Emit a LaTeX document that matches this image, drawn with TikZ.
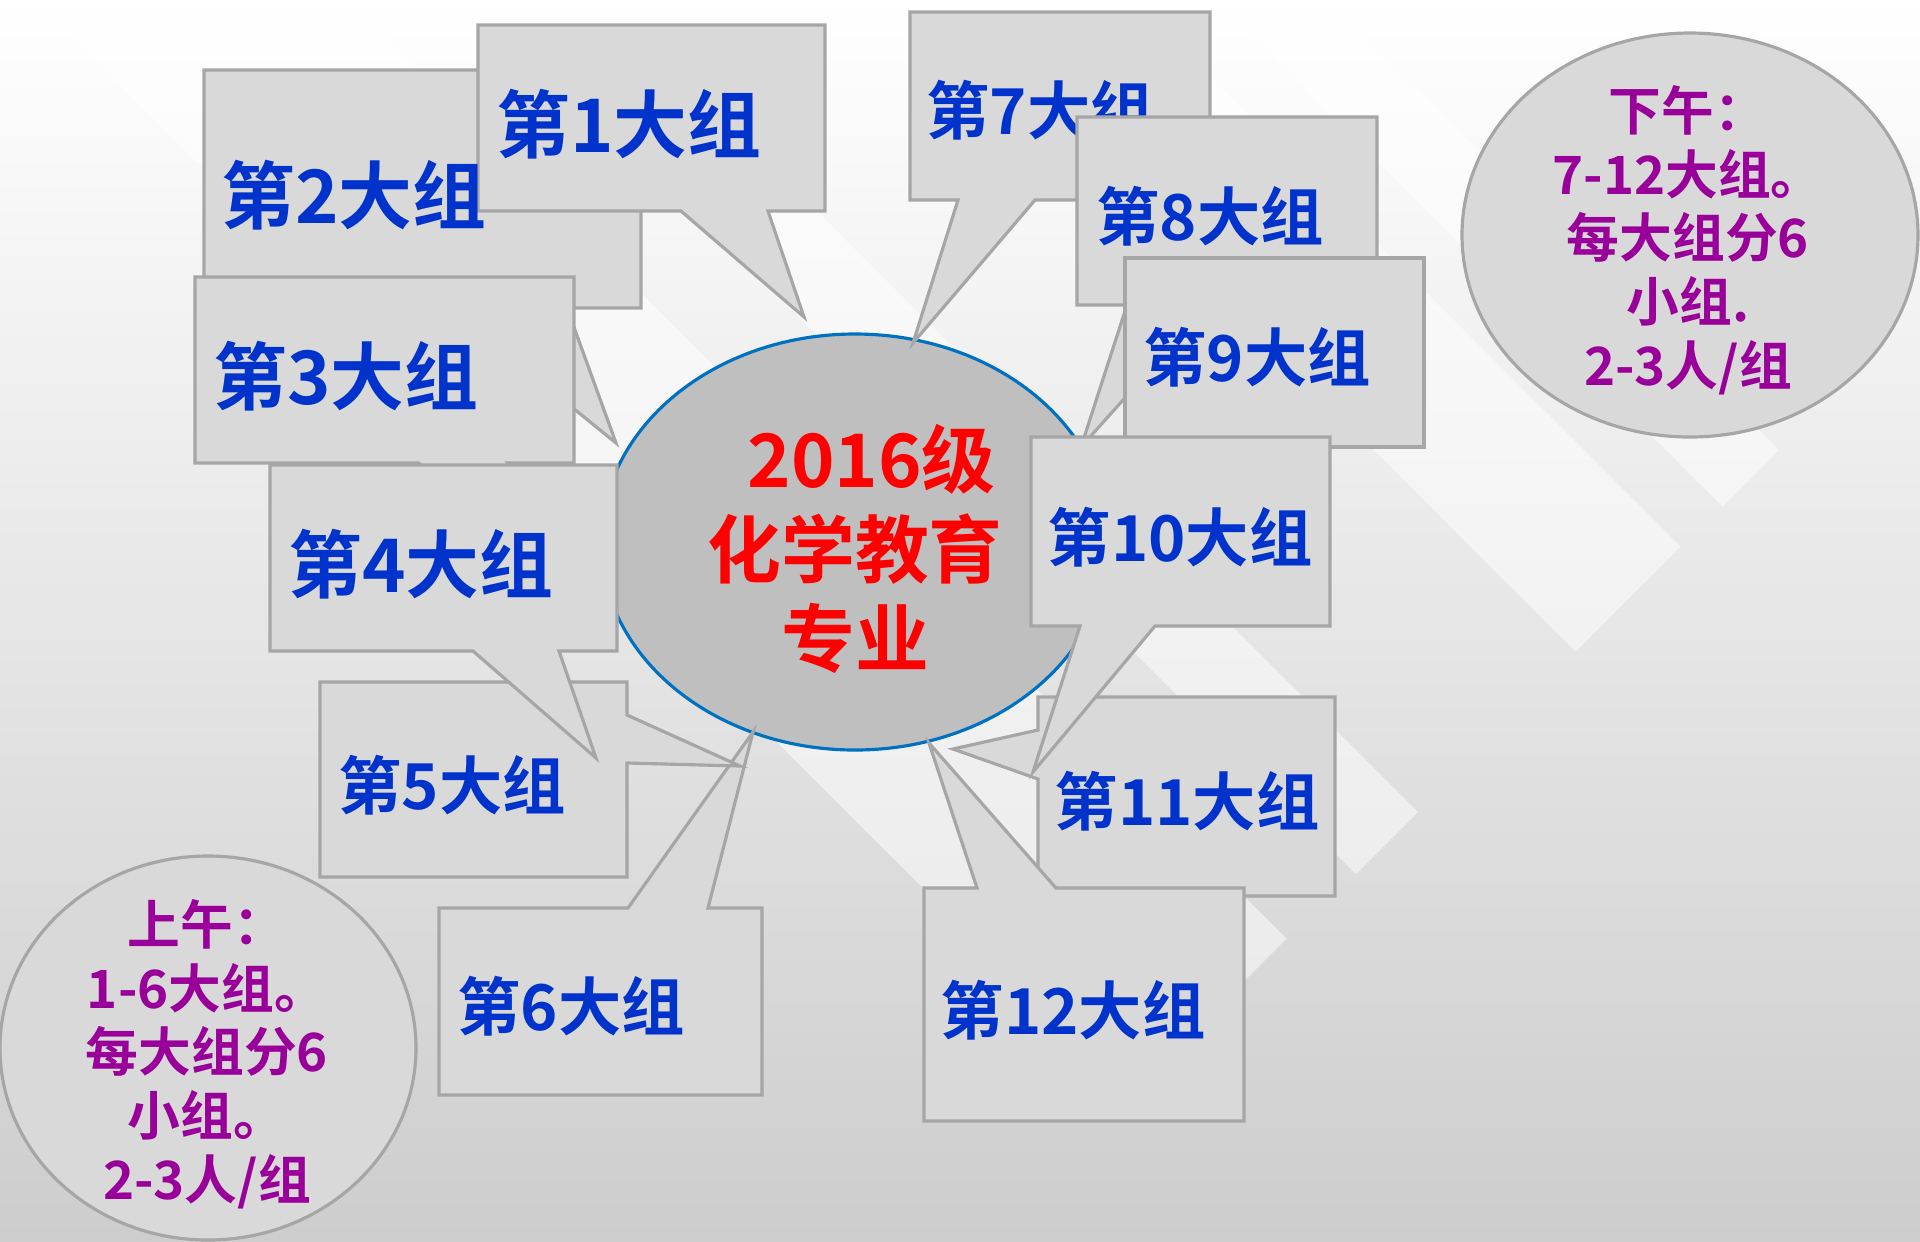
\documentclass[tikz,border=0pt]{standalone}
\usepackage{fontspec}
\newfontfamily\cjk{Noto Sans CJK SC}[BoldFont={Noto Sans CJK SC Bold}]
\usetikzlibrary{calc}

\definecolor{bggray}{HTML}{CDCDCD}
\definecolor{boxgray}{HTML}{D9D9D9}
\definecolor{edgegray}{HTML}{A6A6A6}
\definecolor{hubgray}{HTML}{BFBFBF}
\definecolor{hubblue}{HTML}{0070C0}
\definecolor{groupblue}{HTML}{0033CC}
\definecolor{notepurple}{HTML}{990099}

\begin{document}
\begin{tikzpicture}[x=0.01cm, y=-0.01cm,
    bubble/.style={fill=boxgray, draw=edgegray, line width=0.9pt},
    stripe/.style={fill=white, fill opacity=0.5},
    grouplabel/.style={inner sep=0pt, text=groupblue,
      font=\cjk\bfseries\fontsize{18}{20}\selectfont},
    biglabel/.style={grouplabel, font=\cjk\bfseries\fontsize{21}{24}\selectfont},
    notelabel/.style={inner sep=0pt, align=center, text=notepurple,
      font=\cjk\bfseries\fontsize{15}{18.1}\selectfont}]
  \useasboundingbox (0,0) rectangle (1920,1241);

  % Background with light diagonal stripes
  \shade[top color=white, bottom color=bggray] (0,0) rectangle (1920,1241);
  \begin{scope}
    \clip (0,0) rectangle (1920,1241);
    \foreach \tx/\ty/\lx/\ly in {1779/450/1722.5/506.5, 1680.5/546.5/1575.5/651.5,
                                 1418/812/1356/874, 1286.5/938.5/1130/1095}{
      \fill[stripe] (\tx,\ty) -- (\lx,\ly) -- ++(-1800,-1800)
        -- ($(\tx,\ty)+(-1800,-1800)$) -- cycle;
    }
  \end{scope}

  % Central ellipse
  \draw[fill=hubgray, draw=hubblue, line width=0.9pt] (855,542) ellipse [x radius=254, y radius=208];
  \node[inner sep=0pt, align=center, text=red,
        font=\cjk\bfseries\fontsize{21}{25.4}\selectfont] (hub) at (855,549)
        {\hspace*{0.45em}2016级\\化学教育\\专业};

  % Callouts 1 and 2
  \draw[bubble] (204,70) -- (641,70) -- (641,308) -- (567,308) -- (616,443)
    -- (450,308) -- (204,308) -- cycle;
  \draw[bubble] (478,25) -- (825,25) -- (825,211) -- (768,211) -- (804,317)
    -- (681,211) -- (478,211) -- cycle;
  \node[biglabel] (g2) at (354,195) {第2大组};
  \node[biglabel] (g1) at (629,124) {第1大组};

  % Callout 3
  \draw[bubble] (195,277) -- (574,277) -- (574,463) -- (508,463) -- (600,560)
    -- (418,463) -- (195,463) -- cycle;
  \node[biglabel] (g3) at (346,376) {第3大组};

  % Callout 6
  \draw[bubble] (439,908) -- (628,908) -- (753,732) -- (708,908) -- (762,908)
    -- (762,1095) -- (439,1095) -- cycle;
  \node[grouplabel] (g6) at (571,1006) {第6大组};

  % Callout 5
  \draw[bubble] (320,682) -- (627,682) -- (627,715) -- (740,766) -- (627,763)
    -- (627,877) -- (320,877) -- cycle;
  \node[grouplabel] (g5) at (452,785) {第5大组};

  % Callout 4 (its pointer lies over callout 5)
  \draw[bubble] (270,465) -- (617,465) -- (617,651) -- (559,651) -- (596,758)
    -- (473,651) -- (270,651) -- cycle;
  \node[biglabel] (g4) at (421,564) {第4大组};

  % Callout 7
  \draw[bubble] (910,12) -- (1210,12) -- (1210,200) -- (1035,200) -- (913,343)
    -- (958,200) -- (910,200) -- cycle;
  \node[grouplabel] (g7) at (1040,110) {第7大组};

  % Callout 8
  \draw[bubble] (1077,117) -- (1377,117) -- (1377,305) -- (1208,305) -- (1081,447)
    -- (1127,305) -- (1077,305) -- cycle;
  \node[grouplabel] (g8) at (1210,216) {第8大组};

  % Callout 9
  \draw[bubble] (1125,258) rectangle (1424,447);
  \node[grouplabel] (g9) at (1257,357) {第9大组};

  % Callout 11
  \draw[bubble] (1038,697) -- (1335,697) -- (1335,896) -- (1038,896) -- (1038,779)
    -- (953,749) -- (1038,730) -- cycle;
  \node[grouplabel] (g11) at (1187,801) {第11大组};

  % Callout 10
  \draw[bubble] (1031,437) -- (1330,437) -- (1330,626) -- (1155,626) -- (1033,772)
    -- (1080,626) -- (1031,626) -- cycle;
  \node[grouplabel] (g10) at (1180,537) {第10大组};

  % Callout 12
  \draw[bubble] (924,888) -- (977,888) -- (929,743) -- (1056,888) -- (1244,888)
    -- (1244,1121) -- (924,1121) -- cycle;
  \node[grouplabel] (g12) at (1073,1010) {第12大组};

  % Notes: afternoon and morning
  \draw[fill=boxgray, draw=edgegray, line width=0.9pt] (1690,235) ellipse [x radius=228, y radius=202];
  \node[notelabel] (pm) at (1688,240) {下午：\\7-12大组。\\每大组分6\\小组.\\2-3人/组};
  \draw[fill=boxgray, draw=edgegray, line width=0.9pt] (208,1048) ellipse [x radius=208, y radius=192];
  \node[notelabel] (am) at (207,1054) {上午：\\1-6大组。\\每大组分6\\小组。\\2-3人/组};
\end{tikzpicture}
\end{document}
